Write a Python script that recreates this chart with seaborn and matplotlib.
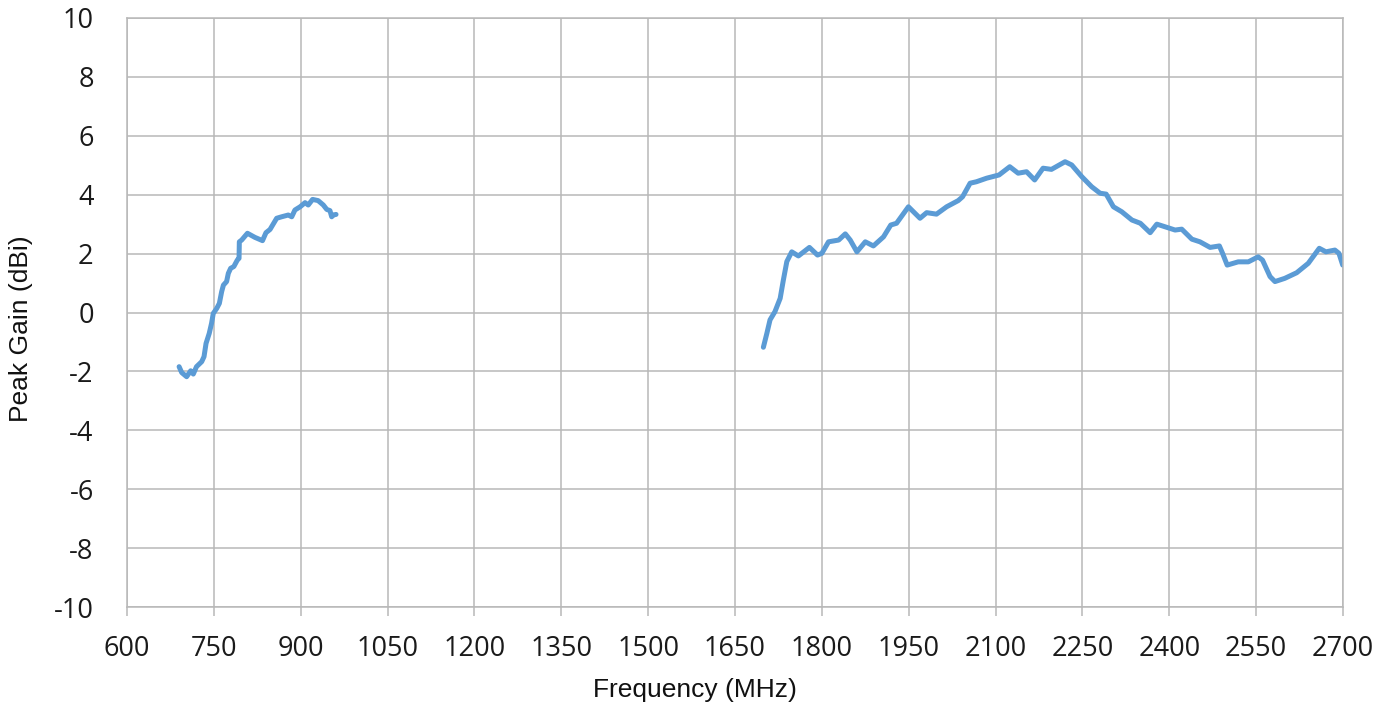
import matplotlib
matplotlib.use("Agg")
import matplotlib.pyplot as plt
import seaborn as sns
import pandas as pd

# Low band (MHz, dBi)
low_freq = [690, 694.5, 703, 710, 714.5, 720, 729, 733, 736.5, 742, 746, 749, 755, 759.5,
            763.5, 766.5, 772, 775, 779, 784.5, 790.5, 793.5, 794, 798, 808, 821, 834, 840,
            847, 858.5, 867, 878.5, 884.5, 890, 899, 907.5, 913, 920.5, 930, 939, 945,
            950.5, 953.5, 956, 961]
low_gain = [-1.84, -2.04, -2.18, -1.98, -2.09, -1.84, -1.67, -1.50, -1.05, -0.71, -0.37, -0.03,
            0.14, 0.31, 0.71, 0.93, 1.05, 1.33, 1.50, 1.56, 1.78, 1.84, 2.40, 2.46, 2.69, 2.55,
            2.44, 2.71, 2.82, 3.20, 3.25, 3.31, 3.25, 3.48, 3.59, 3.73, 3.65, 3.84, 3.80, 3.65,
            3.50, 3.46, 3.25, 3.31, 3.33]

# High band (MHz, dBi)
high_freq = [1699, 1705, 1710.5, 1719, 1728, 1733.5, 1739.5, 1748, 1759.5, 1778.5, 1792.5,
             1800, 1811.5, 1829, 1840.5, 1849, 1860.5, 1875, 1889, 1906.5, 1919, 1929,
             1949.5, 1969.5, 1981, 1998, 2015.5, 2035.5, 2043, 2056, 2067, 2084.5, 2106,
             2124.5, 2139, 2153.5, 2167.5, 2182, 2196.5, 2220, 2231.5, 2249, 2266, 2280.5,
             2291, 2303.5, 2318, 2335.5, 2350, 2367, 2378.5, 2396, 2410, 2421.5, 2439,
             2453, 2470.5, 2486.5, 2492, 2500, 2519, 2536.5, 2553.5, 2561, 2574, 2582.5,
             2599.5, 2620, 2640, 2659, 2670.5, 2686, 2693, 2699.5]
high_gain = [-1.18, -0.71, -0.25, 0.03, 0.48, 1.10, 1.73, 2.06, 1.92, 2.21, 1.95,
             2.01, 2.40, 2.46, 2.67, 2.46, 2.06, 2.40, 2.26, 2.57, 2.97, 3.03,
             3.59, 3.20, 3.39, 3.34, 3.59, 3.80, 3.93, 4.39, 4.44, 4.56, 4.67,
             4.95, 4.73, 4.78, 4.50, 4.90, 4.86, 5.12, 5.01, 4.61, 4.27, 4.05,
             4.02, 3.59, 3.42, 3.14, 3.03, 2.71, 3.00, 2.89, 2.80, 2.83, 2.49,
             2.40, 2.21, 2.26, 2.01, 1.61, 1.72, 1.72, 1.89, 1.78, 1.22, 1.05,
             1.16, 1.35, 1.67, 2.18, 2.06, 2.12, 2.01, 1.61]

x_ticks = list(range(600, 2701, 150))
y_ticks = list(range(-10, 11, 2))

sns.set_theme(style="white")
plt.rcParams["font.family"] = ["Open Sans", "DejaVu Sans"]

fig = plt.figure(figsize=(13.95, 7.09), dpi=100)
ax = fig.add_axes([127 / 1395, 1 - 607 / 709, (1343 - 127) / 1395, (607 - 18) / 709])

df_low = pd.DataFrame({"f": low_freq, "g": low_gain})
df_high = pd.DataFrame({"f": high_freq, "g": high_gain})
line_color = "#5B9BD5"
for d in (df_low, df_high):
    sns.lineplot(data=d, x="f", y="g", ax=ax, sort=False, estimator=None,
                 color=line_color, linewidth=3.6, solid_capstyle="round",
                 solid_joinstyle="round")

ax.set_xlim(600, 2700)
ax.set_ylim(-10, 10)
ax.set_xticks(x_ticks)
ax.set_yticks(y_ticks)
ax.set_xticklabels([str(v) for v in x_ticks])
ax.set_yticklabels([str(v) for v in y_ticks])

grid_c = "#b8b8b8"
ax.grid(True, color=grid_c, linewidth=1.1)
for s in ax.spines.values():
    s.set_color(grid_c)
    s.set_linewidth(1.1)

ax.tick_params(axis="x", which="both", bottom=True, length=6.5, width=1.1, color=grid_c,
               labelsize=19.5, pad=13.5, labelcolor="#1a1a1a")
ax.tick_params(axis="y", which="both", left=False, length=0, labelsize=19.5, pad=24,
               labelcolor="#1a1a1a")

ax.set_xlabel("Frequency (MHz)", fontsize=19, family=["Liberation Sans", "DejaVu Sans"],
              color="#111111")
ax.set_ylabel("Peak Gain (dBi)", fontsize=19, family=["Liberation Sans", "DejaVu Sans"],
              color="#111111")
ax.xaxis.set_label_coords(0.467, -0.121)
ax.yaxis.set_label_coords(-0.077, 0.473)

fig.savefig("out.png", dpi=100, facecolor="white")
